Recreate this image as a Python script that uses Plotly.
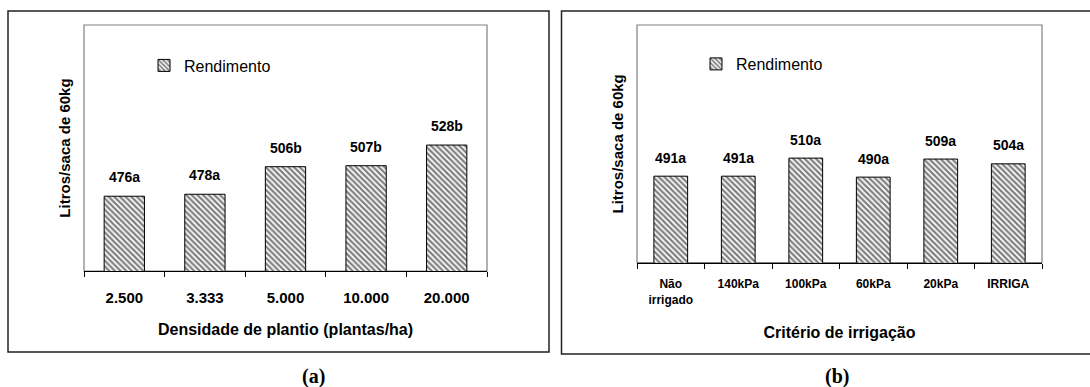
import plotly.graph_objects as go

W, H = 1090, 387

# ---- data ----
dens_categories = ["2.500", "3.333", "5.000", "10.000", "20.000"]
dens_values = [476, 478, 506, 507, 528]
dens_letters = ["a", "a", "b", "b", "b"]

irr_categories = ["Não<br>irrigado", "140kPa", "100kPa", "60kPa", "20kPa", "IRRIGA"]
irr_values = [491, 491, 510, 490, 509, 504]
irr_letters = ["a", "a", "a", "a", "a", "a"]

series_name = "Rendimento"
y_range = [400, 650]

FONT = "Liberation Sans, Arial, sans-serif"
SERIF = "Liberation Serif, Times New Roman, serif"


def px_x(v):
    return v / W


def px_y(v):
    return 1 - v / H


pattern = dict(shape="\\", size=4, solidity=0.55, fgcolor="black", bgcolor="white")

fig = go.Figure()
fig.add_trace(go.Bar(
    x=dens_categories, y=dens_values, name=series_name,
    marker=dict(color="white", pattern=pattern, line=dict(color="black", width=1)),
    xaxis="x", yaxis="y", legend="legend", showlegend=True,
))
fig.add_trace(go.Bar(
    x=irr_categories, y=irr_values, name=series_name,
    marker=dict(color="white", pattern=pattern, line=dict(color="black", width=1)),
    xaxis="x2", yaxis="y2", legend="legend2", showlegend=True,
))

# value labels (category index positions)
for i, (v, l) in enumerate(zip(dens_values, dens_letters)):
    fig.add_annotation(x=i, y=v, xref="x", yref="y", text=f"<b>{v}{l}</b>",
                       showarrow=False, yanchor="middle", yshift=19,
                       font=dict(family=FONT, size=14, color="black"))
for i, (v, l) in enumerate(zip(irr_values, irr_letters)):
    fig.add_annotation(x=i, y=v, xref="x2", yref="y2", text=f"<b>{v}{l}</b>",
                       showarrow=False, yanchor="middle", yshift=18.5,
                       font=dict(family=FONT, size=14, color="black"))

# panel letters
fig.add_annotation(x=px_x(313), y=px_y(376), xref="paper", yref="paper", text="<b>(a)</b>",
                   showarrow=False, xanchor="center", yanchor="middle",
                   font=dict(family=SERIF, size=20, color="black"))
fig.add_annotation(x=px_x(837), y=px_y(376), xref="paper", yref="paper", text="<b>(b)</b>",
                   showarrow=False, xanchor="center", yanchor="middle",
                   font=dict(family=SERIF, size=20, color="black"))

# outer frames
fig.add_shape(type="rect", xref="paper", yref="paper",
              x0=px_x(8), x1=px_x(549), y0=px_y(352), y1=px_y(11),
              line=dict(color="#222", width=1.5))
fig.add_shape(type="rect", xref="paper", yref="paper",
              x0=px_x(561.5), x1=px_x(1095), y0=px_y(354), y1=px_y(11),
              line=dict(color="#222", width=1.5))
# plot area frames (gray)
for ax in ["x", "x2"]:
    yax = "y" if ax == "x" else "y2"
    fig.add_shape(type="rect", xref=f"{ax} domain", yref=f"{yax} domain",
                  x0=0, x1=1, y0=0, y1=1, line=dict(color="#808080", width=1.2), layer="below")

xaxis_common = dict(
    type="category", showline=True, linecolor="black", linewidth=1.2,
    ticks="outside", tickson="boundaries", ticklen=5, tickcolor="black", tickwidth=1,
    showgrid=False, zeroline=False, fixedrange=True, tickangle=0,
)
yaxis_common = dict(range=y_range, showticklabels=False, ticks="", showgrid=False,
                    zeroline=False, showline=False, fixedrange=True)

fig.update_layout(
    width=W, height=H,
    margin=dict(l=0, r=0, t=0, b=0),
    paper_bgcolor="white", plot_bgcolor="white",
    bargap=0.5,
    font=dict(family=FONT, color="black"),
    xaxis=dict(**xaxis_common, domain=[px_x(84), px_x(487)], anchor="y",
               ticklabelstandoff=13,
               tickfont=dict(family=FONT, size=15, color="black", weight="bold"),
               title=dict(text="<b>Densidade de plantio (plantas/ha)</b>", standoff=18,
                          font=dict(family=FONT, size=16, color="black"))),
    yaxis=dict(**yaxis_common, domain=[px_y(271), px_y(25)], anchor="x",
               title=dict(text="<b>Litros/saca de 60kg</b>", standoff=8,
                          font=dict(family=FONT, size=15, color="black"))),
    xaxis2=dict(**xaxis_common, domain=[px_x(637), px_x(1042)], anchor="y2",
                ticklabelstandoff=10,
                tickfont=dict(family=FONT, size=12, color="black", weight="bold"),
                title=dict(text="<b>Critério de irrigação</b>", standoff=21,
                           font=dict(family=FONT, size=16, color="black"))),
    yaxis2=dict(**yaxis_common, domain=[px_y(262.7), px_y(25)], anchor="x2",
                title=dict(text="<b>Litros/saca de 60kg</b>", standoff=8,
                           font=dict(family=FONT, size=15, color="black"))),
    legend=dict(x=px_x(144), y=px_y(65.5), xanchor="left", yanchor="middle",
                bgcolor="rgba(0,0,0,0)", font=dict(family=FONT, size=16, color="black")),
    legend2=dict(x=px_x(696), y=px_y(64), xanchor="left", yanchor="middle",
                 bgcolor="rgba(0,0,0,0)", font=dict(family=FONT, size=16, color="black")),
)

fig.write_html("out.html")
